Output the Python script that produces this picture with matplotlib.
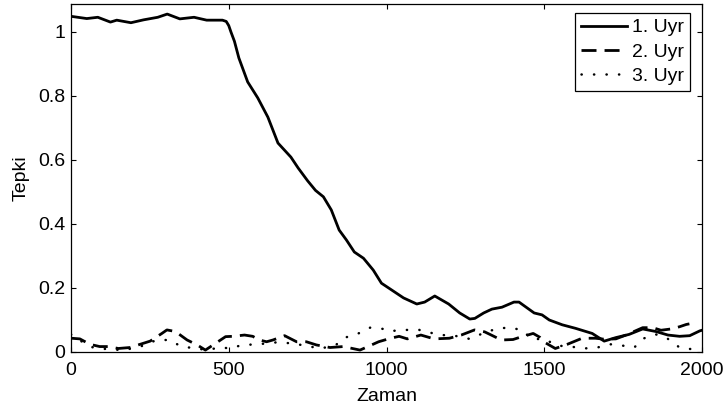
import matplotlib
matplotlib.use("Agg")
import matplotlib.pyplot as plt

plt.rcParams['font.family'] = ['Liberation Sans', 'DejaVu Sans']

# Series 1 (solid)
x1 = [0, 50, 85, 125, 145, 190, 230, 275, 305, 345, 390, 430, 480, 492, 500, 507, 518, 532,
      560, 592, 624, 656, 697, 720, 750, 775, 800, 825, 850, 873, 898, 927, 958, 984, 1016,
      1054, 1096, 1121, 1153, 1197, 1232, 1264, 1280, 1308, 1334, 1366, 1404, 1420, 1468,
      1493, 1516, 1557, 1599, 1652, 1690, 1727, 1769, 1812, 1854, 1892, 1929, 1961, 1993,
      2000]
y1 = [1.049, 1.042, 1.046, 1.031, 1.037, 1.029, 1.038, 1.046, 1.056, 1.041, 1.046, 1.037,
      1.037, 1.033, 1.02, 1.0, 0.971, 0.919, 0.844, 0.794, 0.734, 0.653, 0.609, 0.575,
      0.535, 0.505, 0.485, 0.444, 0.381, 0.35, 0.3125, 0.293, 0.256, 0.215, 0.194, 0.169,
      0.15, 0.156, 0.175, 0.15, 0.122, 0.103, 0.105, 0.122, 0.134, 0.14, 0.156, 0.156,
      0.122, 0.116, 0.1, 0.085, 0.074, 0.058, 0.034, 0.045, 0.055, 0.072, 0.064, 0.053,
      0.049, 0.051, 0.066, 0.068]

# Series 2 (dashed)
x2 = [1, 28, 60, 91, 118, 150, 187, 219, 251, 288, 304, 331, 368, 400, 426, 458, 490, 513,
      550, 576, 597, 620, 640, 677, 715, 746, 778, 821, 863, 916, 948, 975, 1013, 1040, 1066,
      1109, 1151, 1199, 1237, 1279, 1311, 1332, 1364, 1401, 1423, 1465, 1486, 1498, 1535,
      1573, 1620, 1662, 1690, 1727, 1759, 1812, 1844, 1870, 1902, 1929, 1950, 1960]
y2 = [0.043, 0.041, 0.024, 0.017, 0.017, 0.011, 0.014, 0.024, 0.034, 0.058, 0.069, 0.064,
      0.0375, 0.022, 0.006, 0.027, 0.048, 0.049, 0.053, 0.049, 0.0375, 0.032, 0.0375, 0.051,
      0.032, 0.032, 0.022, 0.014, 0.017, 0.006, 0.020, 0.032, 0.043, 0.049, 0.041, 0.053,
      0.041, 0.043, 0.053, 0.069, 0.063, 0.053, 0.0375, 0.039, 0.046, 0.058, 0.046, 0.032,
      0.011, 0.024, 0.043, 0.043, 0.040, 0.041, 0.053, 0.076, 0.076, 0.068, 0.072, 0.079,
      0.086, 0.088]

# Series 3 (dotted)
x3 = [0, 30, 67, 120, 170, 230, 271, 310, 351, 390, 432, 474, 502, 544, 592, 650, 704, 750,
      794, 842, 869, 911, 948, 991, 1008, 1056, 1104, 1140, 1178, 1220, 1263, 1310, 1353,
      1391, 1428, 1460, 1502, 1540, 1583, 1626, 1668, 1711, 1748, 1785, 1817, 1854, 1892,
      1929, 1966, 2000]
y3 = [0.055, 0.035, 0.015, 0.008, 0.006, 0.02, 0.0375, 0.0375, 0.017, 0.012, 0.006, 0.015,
      0.011, 0.022, 0.024, 0.03, 0.027, 0.018, 0.011, 0.024, 0.045, 0.058, 0.076, 0.072,
      0.065, 0.069, 0.069, 0.06, 0.053, 0.05, 0.041, 0.06, 0.074, 0.076, 0.069, 0.041, 0.04,
      0.02, 0.017, 0.011, 0.014, 0.024, 0.02, 0.014, 0.043, 0.055, 0.041, 0.014, 0.009, 0.01]

labels = ['1. Uyr', '2. Uyr', '3. Uyr']
xticks = [0, 500, 1000, 1500, 2000]
yticks = [0, 0.2, 0.4, 0.6, 0.8, 1.0]
yticklabels = ['0', '0.2', '0.4', '0.6', '0.8', '1']

fig = plt.figure(figsize=(7.26, 4.12), dpi=100)
ax = fig.add_axes([71/726, 60/412, 631/726, 348/412])

ax.plot(x1, y1, color='black', lw=2.0, label=labels[0])
ax.plot(x2, y2, color='black', lw=2.0, linestyle=(0, (5.4, 2.9)), label=labels[1])
ax.plot(x3, y3, color='black', lw=1.8, linestyle=(0, (0.1, 4.9)),
        dash_capstyle='round', label=labels[2])

ax.set_xlim(0, 2000)
ax.set_ylim(0, 1.0875)
ax.set_xticks(xticks)
ax.set_xticklabels([str(t) for t in xticks])
ax.set_yticks(yticks)
ax.set_yticklabels(yticklabels)
ax.tick_params(direction='in', top=True, right=True, length=3.6, width=0.8,
               labelsize=14, pad=4)
ax.tick_params(axis='x', pad=7.5)
for s in ax.spines.values():
    s.set_linewidth(0.9)

ax.set_xlabel('Zaman', fontsize=14, labelpad=6)
ax.set_ylabel('Tepki', fontsize=14, labelpad=6)

leg = ax.legend(loc='upper right', bbox_to_anchor=(1 - 12/631, 1 - 9/348),
                borderaxespad=0, fontsize=14, handlelength=2.4, handletextpad=0.25,
                labelspacing=0.35, borderpad=0.3, fancybox=False, framealpha=1,
                edgecolor='black')
leg.get_frame().set_linewidth(0.9)

fig.savefig('out.png', dpi=100)
